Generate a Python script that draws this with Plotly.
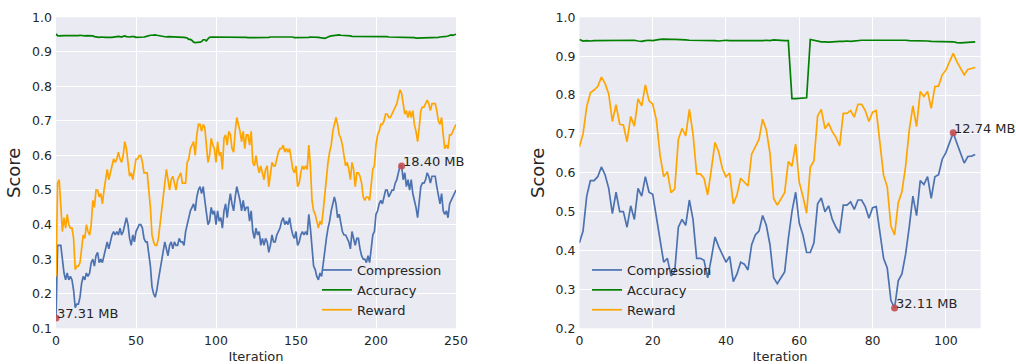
import plotly.graph_objects as go

# ---------------- data ----------------
left_iter = list(range(0, 251))
left_compression = [
    0.13, 0.34, 0.34, 0.34, 0.30, 0.26, 0.24, 0.26, 0.24, 0.25,
    0.24, 0.21, 0.16, 0.17, 0.17, 0.19, 0.23, 0.25, 0.24, 0.26,
    0.25, 0.26, 0.29, 0.30, 0.28, 0.31, 0.32, 0.29, 0.30, 0.29,
    0.31, 0.33, 0.35, 0.33, 0.35, 0.37, 0.38, 0.37, 0.38, 0.37,
    0.39, 0.37, 0.38, 0.40, 0.42, 0.40, 0.36, 0.34, 0.37, 0.35,
    0.38, 0.39, 0.40, 0.40, 0.39, 0.36, 0.35, 0.35, 0.32, 0.28,
    0.22, 0.20, 0.19, 0.21, 0.24, 0.27, 0.29, 0.32, 0.35, 0.33,
    0.31, 0.34, 0.35, 0.33, 0.35, 0.34, 0.34, 0.36, 0.35, 0.35,
    0.34, 0.38, 0.40, 0.42, 0.44, 0.45, 0.46, 0.44, 0.48, 0.50,
    0.51, 0.49, 0.51, 0.47, 0.44, 0.40, 0.41, 0.45, 0.43, 0.44,
    0.40, 0.44, 0.41, 0.42, 0.39, 0.44, 0.46, 0.42, 0.46, 0.49,
    0.46, 0.44, 0.48, 0.51, 0.49, 0.47, 0.44, 0.47, 0.44, 0.45,
    0.45, 0.41, 0.44, 0.38, 0.36, 0.39, 0.37, 0.38, 0.34, 0.36,
    0.34, 0.36, 0.35, 0.32, 0.34, 0.37, 0.35, 0.35, 0.37, 0.38,
    0.39, 0.41, 0.42, 0.40, 0.41, 0.40, 0.42, 0.39, 0.37, 0.36,
    0.38, 0.34, 0.35, 0.37, 0.38, 0.37, 0.38, 0.37, 0.43, 0.39,
    0.32, 0.28, 0.27, 0.25, 0.24, 0.26, 0.25, 0.29, 0.33, 0.36,
    0.39, 0.41, 0.44, 0.46, 0.48, 0.46, 0.42, 0.43, 0.40, 0.38,
    0.37, 0.37, 0.36, 0.35, 0.33, 0.38, 0.36, 0.34, 0.36, 0.36,
    0.33, 0.31, 0.30, 0.30, 0.29, 0.31, 0.29, 0.33, 0.37, 0.38,
    0.43, 0.44, 0.46, 0.47, 0.46, 0.48, 0.50, 0.50, 0.48, 0.49,
    0.50, 0.50, 0.52, 0.53, 0.55, 0.57, 0.57, 0.53, 0.55, 0.51,
    0.53, 0.50, 0.53, 0.49, 0.47, 0.45, 0.42, 0.46, 0.51, 0.52,
    0.52, 0.53, 0.55, 0.54, 0.52, 0.54, 0.54, 0.54, 0.51, 0.48,
    0.46, 0.49, 0.44, 0.43, 0.44, 0.42, 0.46, 0.47, 0.48, 0.49,
    0.50,
]
left_accuracy = [
    0.952, 0.947, 0.946, 0.947, 0.946, 0.947, 0.947, 0.946, 0.947, 0.947,
    0.946, 0.947, 0.947, 0.946, 0.947, 0.948, 0.947, 0.947, 0.946, 0.947,
    0.947, 0.948, 0.947, 0.946, 0.944, 0.943, 0.942, 0.942, 0.943, 0.942,
    0.941, 0.942, 0.942, 0.943, 0.942, 0.942, 0.943, 0.944, 0.943, 0.945,
    0.944, 0.943, 0.945, 0.946, 0.944, 0.943, 0.943, 0.944, 0.945, 0.944,
    0.942, 0.942, 0.941, 0.942, 0.942, 0.943, 0.944, 0.946, 0.947, 0.948,
    0.948, 0.949, 0.949, 0.948, 0.947, 0.945, 0.945, 0.944, 0.944, 0.943,
    0.944, 0.944, 0.943, 0.943, 0.942, 0.943, 0.943, 0.942, 0.943, 0.942,
    0.942, 0.941, 0.940, 0.936, 0.936, 0.933, 0.928, 0.927, 0.927, 0.928,
    0.928, 0.930, 0.935, 0.935, 0.932, 0.938, 0.942, 0.943, 0.943, 0.942,
    0.942, 0.942, 0.943, 0.942, 0.942, 0.943, 0.944, 0.942, 0.943, 0.942,
    0.943, 0.942, 0.944, 0.943, 0.942, 0.942, 0.943, 0.942, 0.943, 0.942,
    0.941, 0.941, 0.942, 0.941, 0.941, 0.940, 0.942, 0.941, 0.940, 0.941,
    0.942, 0.942, 0.941, 0.942, 0.943, 0.943, 0.944, 0.944, 0.943, 0.944,
    0.944, 0.943, 0.944, 0.943, 0.943, 0.942, 0.942, 0.942, 0.943, 0.941,
    0.941, 0.940, 0.941, 0.941, 0.942, 0.941, 0.941, 0.942, 0.942, 0.943,
    0.943, 0.944, 0.943, 0.942, 0.942, 0.941, 0.940, 0.939, 0.939, 0.941,
    0.944, 0.945, 0.946, 0.947, 0.948, 0.948, 0.948, 0.949, 0.948, 0.948,
    0.947, 0.947, 0.946, 0.946, 0.946, 0.945, 0.945, 0.946, 0.946, 0.946,
    0.945, 0.945, 0.946, 0.946, 0.945, 0.945, 0.946, 0.945, 0.945, 0.946,
    0.945, 0.945, 0.944, 0.945, 0.946, 0.945, 0.945, 0.944, 0.943, 0.943,
    0.943, 0.942, 0.943, 0.942, 0.942, 0.941, 0.941, 0.942, 0.942, 0.943,
    0.942, 0.941, 0.942, 0.941, 0.941, 0.940, 0.940, 0.941, 0.940, 0.940,
    0.941, 0.942, 0.941, 0.941, 0.940, 0.941, 0.942, 0.942, 0.941, 0.942,
    0.943, 0.943, 0.944, 0.944, 0.945, 0.946, 0.948, 0.949, 0.948, 0.949,
    0.951,
]
left_reward = [
    0.25, 0.52, 0.53, 0.46, 0.38, 0.42, 0.39, 0.43, 0.40, 0.39,
    0.39, 0.36, 0.27, 0.28, 0.28, 0.29, 0.33, 0.37, 0.36, 0.40,
    0.38, 0.37, 0.40, 0.47, 0.45, 0.50, 0.50, 0.48, 0.49, 0.46,
    0.50, 0.53, 0.56, 0.53, 0.55, 0.57, 0.59, 0.58, 0.59, 0.61,
    0.59, 0.58, 0.60, 0.64, 0.62, 0.58, 0.54, 0.55, 0.53, 0.56,
    0.59, 0.59, 0.60, 0.60, 0.58, 0.55, 0.55, 0.55, 0.50, 0.45,
    0.37, 0.35, 0.34, 0.34, 0.36, 0.40, 0.44, 0.47, 0.51, 0.56,
    0.53, 0.50, 0.53, 0.54, 0.52, 0.50, 0.53, 0.54, 0.55, 0.52,
    0.52, 0.52, 0.58, 0.59, 0.62, 0.63, 0.64, 0.60, 0.66, 0.69,
    0.69, 0.67, 0.69, 0.68, 0.63, 0.58, 0.60, 0.65, 0.63, 0.62,
    0.58, 0.64, 0.60, 0.61, 0.56, 0.65, 0.66, 0.63, 0.67, 0.66,
    0.62, 0.61, 0.67, 0.71, 0.69, 0.67, 0.64, 0.67, 0.62, 0.66,
    0.66, 0.63, 0.67, 0.58, 0.57, 0.60, 0.57, 0.55, 0.57, 0.55,
    0.53, 0.56, 0.57, 0.51, 0.55, 0.58, 0.57, 0.57, 0.59, 0.61,
    0.62, 0.62, 0.63, 0.61, 0.62, 0.61, 0.62, 0.59, 0.56, 0.55,
    0.57, 0.51, 0.52, 0.55, 0.57, 0.56, 0.57, 0.56, 0.63, 0.57,
    0.47, 0.44, 0.43, 0.41, 0.39, 0.41, 0.40, 0.44, 0.49, 0.54,
    0.58, 0.61, 0.63, 0.67, 0.69, 0.71, 0.69, 0.66, 0.65, 0.63,
    0.60, 0.57, 0.58, 0.56, 0.53, 0.58, 0.56, 0.51, 0.55, 0.55,
    0.54, 0.52, 0.48, 0.47, 0.48, 0.48, 0.47, 0.52, 0.56, 0.57,
    0.63, 0.66, 0.67, 0.69, 0.69, 0.70, 0.72, 0.72, 0.71, 0.71,
    0.72, 0.73, 0.74, 0.75, 0.77, 0.79, 0.78, 0.75, 0.72, 0.73,
    0.71, 0.73, 0.71, 0.73, 0.69, 0.67, 0.64, 0.68, 0.73, 0.74,
    0.74, 0.75, 0.76, 0.75, 0.73, 0.75, 0.75, 0.75, 0.73, 0.70,
    0.69, 0.71, 0.66, 0.62, 0.63, 0.62, 0.66, 0.66, 0.67, 0.68,
    0.69,
]
left_marks = [0, 216]
left_mark_labels = ["37.31 MB", "18.40 MB"]

right_iter = list(range(0, 109))
right_compression = [
    0.42, 0.45, 0.54, 0.58, 0.58, 0.59, 0.615, 0.595, 0.56, 0.495,
    0.55, 0.50, 0.50, 0.46, 0.515, 0.48, 0.56, 0.54, 0.59, 0.55,
    0.545, 0.49, 0.43, 0.37, 0.38, 0.335, 0.345, 0.46, 0.48, 0.465,
    0.53, 0.48, 0.38, 0.38, 0.375, 0.33, 0.38, 0.435, 0.41, 0.39,
    0.37, 0.385, 0.32, 0.34, 0.37, 0.365, 0.35, 0.415, 0.44, 0.45,
    0.49, 0.465, 0.415, 0.33, 0.315, 0.33, 0.345, 0.43, 0.50, 0.55,
    0.47, 0.44, 0.395, 0.395, 0.42, 0.52, 0.535, 0.50, 0.515, 0.48,
    0.46, 0.445, 0.517, 0.517, 0.525, 0.506, 0.53, 0.53, 0.513, 0.483,
    0.51, 0.513, 0.44, 0.38, 0.355, 0.272, 0.252, 0.322, 0.34, 0.39,
    0.46, 0.54, 0.49, 0.58, 0.57, 0.59, 0.534, 0.59, 0.595, 0.635,
    0.652, 0.68, 0.703, 0.676, 0.648, 0.625, 0.642, 0.643, 0.647,
]
right_accuracy = [
    0.943, 0.939, 0.940, 0.939, 0.940, 0.940, 0.940, 0.940, 0.940, 0.941,
    0.940, 0.941, 0.941, 0.940, 0.940, 0.941, 0.939, 0.938, 0.940, 0.941,
    0.940, 0.942, 0.943, 0.944, 0.943, 0.943, 0.943, 0.943, 0.942, 0.942,
    0.941, 0.941, 0.941, 0.941, 0.940, 0.941, 0.941, 0.940, 0.939, 0.940,
    0.941, 0.940, 0.940, 0.940, 0.940, 0.939, 0.939, 0.940, 0.940, 0.940,
    0.940, 0.941, 0.940, 0.942, 0.941, 0.940, 0.940, 0.940, 0.791, 0.791,
    0.792, 0.792, 0.793, 0.943, 0.941, 0.938, 0.937, 0.937, 0.936, 0.937,
    0.938, 0.938, 0.938, 0.939, 0.938, 0.939, 0.941, 0.941, 0.941, 0.941,
    0.941, 0.941, 0.941, 0.941, 0.941, 0.942, 0.942, 0.942, 0.941, 0.941,
    0.940, 0.940, 0.940, 0.940, 0.939, 0.939, 0.938, 0.938, 0.938, 0.937,
    0.938, 0.938, 0.937, 0.935, 0.934, 0.935, 0.936, 0.936, 0.937,
]
right_reward = [
    0.667, 0.70, 0.77, 0.806, 0.813, 0.822, 0.846, 0.83, 0.803, 0.732,
    0.775, 0.725, 0.723, 0.68, 0.745, 0.72, 0.79, 0.772, 0.826, 0.785,
    0.777, 0.736, 0.646, 0.59, 0.603, 0.549, 0.558, 0.686, 0.714, 0.695,
    0.763, 0.70, 0.597, 0.597, 0.586, 0.543, 0.609, 0.678, 0.654, 0.611,
    0.59, 0.599, 0.52, 0.543, 0.586, 0.577, 0.566, 0.648, 0.669, 0.686,
    0.738, 0.71, 0.65, 0.534, 0.517, 0.532, 0.549, 0.629, 0.617, 0.674,
    0.575, 0.539, 0.496, 0.614, 0.631, 0.746, 0.763, 0.714, 0.727, 0.706,
    0.691, 0.669, 0.753, 0.753, 0.76, 0.743, 0.776, 0.776, 0.76, 0.732,
    0.756, 0.76, 0.68, 0.594, 0.564, 0.463, 0.44, 0.523, 0.551, 0.616,
    0.71, 0.772, 0.719, 0.809, 0.796, 0.809, 0.766, 0.822, 0.823, 0.852,
    0.864, 0.886, 0.907, 0.886, 0.869, 0.852, 0.866, 0.868, 0.871,
]
right_marks = [86, 102]
right_mark_labels = ["32.11 MB", "12.74 MB"]

series_names = ["Compression", "Accuracy", "Reward"]
left_xticks = [0, 50, 100, 150, 200, 250]
right_xticks = [0, 20, 40, 60, 80, 100]
left_yticks = [0.1, 0.2, 0.3, 0.4, 0.5, 0.6, 0.7, 0.8, 0.9, 1.0]
right_yticks = [0.2, 0.3, 0.4, 0.5, 0.6, 0.7, 0.8, 0.9, 1.0]

# ---------------- style ----------------
W, H = 1016, 364
colors = ["#4C72B0", "#008000", "#FFA500"]
mark_color = "#C44E52"
txt = "#262626"
font_family = "DejaVu Sans"
bg = "#EAEAF2"

fig = go.Figure()

panels = [
    dict(xa="x", ya="y", legend="legend", xs=left_iter,
         ys=[left_compression, left_accuracy, left_reward],
         marks=left_marks, labels=left_mark_labels),
    dict(xa="x2", ya="y2", legend="legend2", xs=right_iter,
         ys=[right_compression, right_accuracy, right_reward],
         marks=right_marks, labels=right_mark_labels),
]

annotations = []
for p in panels:
    for name, ys, c in zip(series_names, p["ys"], colors):
        fig.add_trace(go.Scatter(
            x=p["xs"], y=ys, mode="lines", name=name,
            line=dict(color=c, width=1.7),
            xaxis=p["xa"], yaxis=p["ya"], legend=p["legend"],
        ))
    comp = p["ys"][0]
    mx = [p["xs"][i] for i in p["marks"]]
    my = [comp[i] for i in p["marks"]]
    fig.add_trace(go.Scatter(
        x=mx, y=my, mode="markers", showlegend=False,
        marker=dict(color=mark_color, size=7, opacity=0.9),
        xaxis=p["xa"], yaxis=p["ya"],
    ))
    for xv, yv, lab in zip(mx, my, p["labels"]):
        annotations.append(dict(
            x=xv, y=yv, xref=p["xa"], yref=p["ya"], text=lab,
            showarrow=False, xanchor="left", yanchor="bottom",
            xshift=-1, yshift=-5,
            font=dict(family=font_family, size=13, color=txt),
        ))

axis_common = dict(
    showgrid=True, gridcolor="white", gridwidth=1.3, zeroline=False,
    showline=False, ticks="", automargin=False,
    tickfont=dict(family=font_family, size=12.5, color=txt),
)

fig.update_layout(
    width=W, height=H,
    margin=dict(l=0, r=0, t=0, b=0, autoexpand=False),
    paper_bgcolor="white", plot_bgcolor=bg,
    font=dict(family=font_family, color=txt),
    xaxis=dict(domain=[56 / W, 456 / W], range=[0, 250], tickvals=left_xticks,
               ticklabelstandoff=3,
               title=dict(text="Iteration", font=dict(size=13, color=txt), standoff=7),
               anchor="y", **axis_common),
    yaxis=dict(domain=[1 - 328.3 / H, 1 - 17.3 / H], range=[0.1, 1.0], tickvals=left_yticks,
               tickformat=".1f", anchor="x", ticklabelstandoff=3,
               title=dict(text="Score", font=dict(size=18, color=txt), standoff=6),
               **axis_common),
    xaxis2=dict(domain=[579.4 / W, 980.7 / W], range=[0, 109.5], tickvals=right_xticks,
                ticklabelstandoff=3,
                title=dict(text="Iteration", font=dict(size=13, color=txt), standoff=7),
                anchor="y2", **axis_common),
    yaxis2=dict(domain=[1 - 328.3 / H, 1 - 17.3 / H], range=[0.2, 1.0], tickvals=right_yticks,
                tickformat=".1f", anchor="x2", ticklabelstandoff=3,
                title=dict(text="Score", font=dict(size=18, color=txt), standoff=6),
                **axis_common),
    legend=dict(x=317 / W, y=1 - 255 / H, xanchor="left", yanchor="top",
                bgcolor="rgba(0,0,0,0)", font=dict(family=font_family, size=13, color=txt),
                tracegroupgap=0, itemclick=False),
    legend2=dict(x=587 / W, y=1 - 255 / H, xanchor="left", yanchor="top",
                 bgcolor="rgba(0,0,0,0)", font=dict(family=font_family, size=13, color=txt),
                 tracegroupgap=0, itemclick=False),
    annotations=annotations,
    showlegend=True,
)

fig.write_html("out.html", config={"displayModeBar": False},
               post_script="document.body.style.margin='0';document.body.style.padding='0';")
